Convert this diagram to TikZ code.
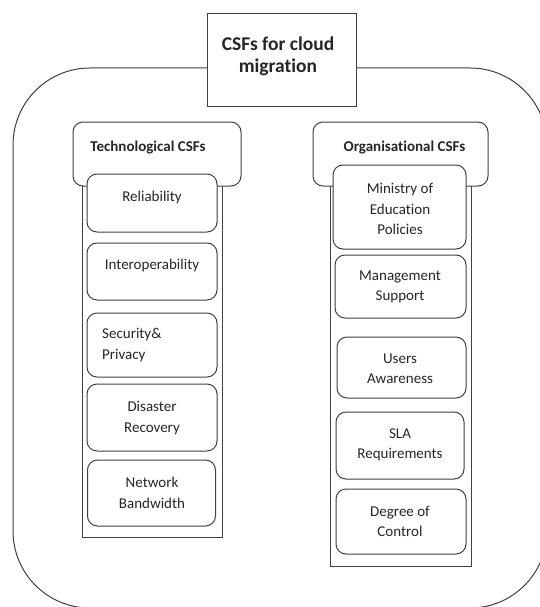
\documentclass[tikz,border=0pt]{standalone}
\usepackage{fontspec}
\setmainfont{Carlito}[Ligatures={NoCommon}]
\begin{document}
\begin{tikzpicture}[x=1pt,y=-1pt,
  ln/.style={draw=black!75, line width=1pt, fill=white, inner sep=0pt},
  rbox/.style={ln, rounded corners=10pt},
  sbox/.style={ln},
  txt/.style={text=black!85, font=\fontsize{15}{20.5}\selectfont, align=center, inner sep=0pt},
  htxt/.style={text=black!85, font=\fontsize{15}{20.5}\selectfont\bfseries, align=center, inner sep=0pt},
  ttxt/.style={text=black!85, font=\fontsize{19.5}{22}\selectfont\bfseries, align=center, inner sep=0pt}]
\useasboundingbox (0,0) rectangle (540,607);
\clip (0,0) rectangle (540,607);
% outer rounded frame
\node[ln, rounded corners=77pt, minimum width=534pt, minimum height=540pt] (outer) at (280,338) {};
% title
\node[sbox, minimum width=149pt, minimum height=93pt] (title) at (281.5,60.5) {};
\node[ttxt] (titletext) at (278,56) {CSFs for cloud\\migration};
% columns
\node[sbox, minimum width=140pt, minimum height=357pt] (colL) at (152,358.5) {};
\node[sbox, minimum width=141pt, minimum height=386pt] (colR) at (400.5,373) {};
% headers
\node[rbox, minimum width=168pt, minimum height=64pt] (tech) at (157,154) {};
\node[htxt] (techtext) at (148,148) {Technological CSFs};
\node[rbox, minimum width=175pt, minimum height=64pt] (org) at (400.5,154) {};
\node[htxt] (orgtext) at (404.5,148) {Organisational CSFs};
% left boxes
\node[rbox, minimum width=130pt, minimum height=58pt] (rel) at (152,203) {};
\node[txt] (reltext) at (152,197) {Reliability};
\node[rbox, minimum width=130pt, minimum height=57pt] (inter) at (152,271.5) {};
\node[txt] (intertext) at (152,265) {Interoperability};
\node[rbox, minimum width=130pt, minimum height=64pt] (sec) at (152,345) {};
\node[txt, align=left, anchor=west] (sectext) at (102,345) {Security\&\\Privacy};
\node[rbox, minimum width=130pt, minimum height=67pt] (dis) at (152,417.5) {};
\node[txt] (distext) at (152,418) {Disaster\\Recovery};
\node[rbox, minimum width=128pt, minimum height=66pt] (net) at (151.5,493) {};
\node[txt] (nettext) at (152,493) {Network\\Bandwidth};
% right boxes
\node[rbox, minimum width=133pt, minimum height=84pt] (min) at (399.5,207) {};
\node[txt] (mintext) at (400,209) {Ministry of\\Education\\Policies};
\node[rbox, minimum width=131pt, minimum height=63pt] (man) at (400.5,286.5) {};
\node[txt] (mantext) at (400,287) {Management\\Support};
\node[rbox, minimum width=129pt, minimum height=61pt] (usr) at (401.5,367.5) {};
\node[txt] (usrtext) at (400,368.5) {Users\\Awareness};
\node[rbox, minimum width=128pt, minimum height=67pt] (sla) at (400,445.5) {};
\node[txt] (slatext) at (400,445) {SLA\\Requirements};
\node[rbox, minimum width=130pt, minimum height=65pt] (deg) at (401,521.5) {};
\node[txt] (degtext) at (400,521.5) {Degree of\\Control};
\end{tikzpicture}
\end{document}
